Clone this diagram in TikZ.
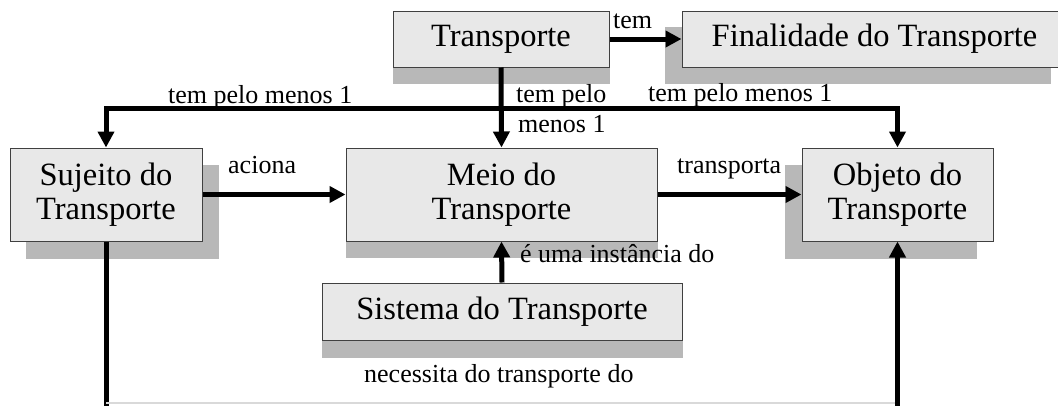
\documentclass[tikz,border=0pt]{standalone}
\usepackage{fontspec}
\setmainfont{Liberation Serif}
\usetikzlibrary{arrows.meta,backgrounds}
\newcommand\boxshadow[3]{\fill[shadowfill] ([shift={(#2,#3)}]#1.south west) rectangle ([shift={(#2,#3)}]#1.north east);}
\begin{document}
\begin{tikzpicture}[x=1pt,y=-1pt,
  box/.style={draw=black!75, line width=1pt, fill=black!9, inner sep=0pt,
    font=\fontsize{32.5}{34}\selectfont, align=center},
  lbl/.style={inner sep=0pt, font=\fontsize{26}{30}\selectfont, anchor=base west},
  conn/.style={line width=5pt, -{Triangle[length=16pt,width=16pt]}},
  plainline/.style={line width=5pt},
  shadowfill/.style={fill=black!28},
  bottomline/.style={draw=black!15, line width=2pt}]
\useasboundingbox (0,0) rectangle (1058,405);
% boxes
\node[box, minimum width=216pt, minimum height=56pt] (trans) at (501,39) {Transporte};
\node[box, minimum width=385pt, minimum height=56pt] (fin) at (874.5,39) {Finalidade do Transporte};
\node[box, minimum width=192pt, minimum height=93pt] (suj) at (106,194.5) {Sujeito do\\Transporte};
\node[box, minimum width=311pt, minimum height=93pt] (meio) at (501.5,194.5) {Meio do\\Transporte};
\node[box, minimum width=191pt, minimum height=93pt] (obj) at (897.5,194.5) {Objeto do\\Transporte};
\node[box, minimum width=360pt, minimum height=57pt] (sis) at (502,311.5) {Sistema do Transporte};
% shadows
\begin{scope}[on background layer]
\boxshadow{trans}{0}{16}
\boxshadow{fin}{-17}{16}
\boxshadow{suj}{16}{17}
\boxshadow{meio}{0}{16}
\boxshadow{obj}{-17}{17}
\boxshadow{sis}{0}{17}
\end{scope}
% connectors
\draw[conn] (trans.east) -- (fin.west);
\draw[conn] (trans.south) -- (meio.north);
\coordinate (jn) at (501,108);
\draw[conn] (jn) -| (suj.north);
\draw[conn] (jn) -| (obj.north);
\draw[conn] (suj.east) -- (meio.west);
\draw[conn] (meio.east) -- (obj.west);
\draw[conn] (sis.north) -- (meio.south);
\coordinate (b1) at (suj.south |- 0,403);
\coordinate (b2) at (obj.south |- 0,403);
\coordinate (e1) at (suj.south |- 0,410);
\coordinate (e2) at (obj.south |- 0,410);
\draw[plainline] (suj.south) -- (e1);
\draw[bottomline] (b1) -- (b2);
\draw[conn] (e2) -- (obj.south);
% labels
\node[lbl] (ltem) at (613,28) {tem};
\node[lbl] (lpl) at (168,103) {tem pelo menos 1};
\node[lbl] (lpm1) at (516,102) {tem pelo};
\node[lbl] (lpm2) at (518,132) {menos 1};
\node[lbl] (lpr) at (648,101) {tem pelo menos 1};
\node[lbl] (lac) at (228,173) {aciona};
\node[lbl] (ltr) at (677,173) {transporta};
\node[lbl] (lin) at (520,262) {é uma instância do};
\node[lbl] (lne) at (364,382) {necessita do transporte do};
\end{tikzpicture}
\end{document}
